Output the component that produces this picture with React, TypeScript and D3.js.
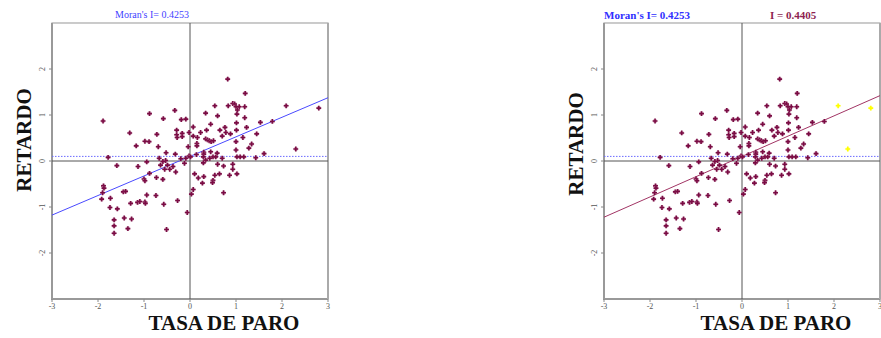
import React from "react";
import * as d3 from "d3";

// Standardised unemployment rate (x) and its spatial lag (y)
const points: [number, number][] = [
  // x<0, y>0
  [-1.89, 0.87], [-1.78, 0.08], [-1.31, 0.61], [-1.17, 0.33], [-0.98, 0.43], [-0.89, 0.42],
  [-0.88, 1.03], [-0.58, 0.92], [-0.72, 0.58], [-0.69, 0.31], [-0.52, 0.18], [-0.33, 1.1],
  [-0.29, 0.57], [-0.29, 0.67], [-0.32, 0.15], [-0.19, 0.9], [-0.09, 0.91], [-0.17, 0.6],
  [-0.17, 0.53], [-0.28, 0.51], [-0.02, 0.62], [-0.04, 0.31], [-0.02, 0.11], [-0.09, 0.06],
  [-0.2, 0.05], [-0.67, 0.06], [-0.53, 0.01],
  // x>0, y>0
  [0.82, 1.78], [1.2, 1.47], [0.54, 1.2], [0.83, 1.2], [0.93, 1.25], [0.97, 1.24],
  [1.0, 1.18], [1.07, 1.18], [1.19, 1.18], [2.09, 1.2], [2.8, 1.15], [1.03, 1.11],
  [1.02, 1.02], [0.34, 1.04], [0.6, 0.98], [1.19, 0.94], [0.45, 0.8], [0.07, 0.74],
  [0.36, 0.67], [0.65, 0.67], [0.76, 0.73], [0.78, 0.62], [0.88, 0.59], [1.01, 0.83],
  [1.01, 0.67], [1.23, 0.73], [1.53, 0.84], [1.79, 0.86], [1.45, 0.59], [1.34, 0.37],
  [1.28, 0.28], [2.3, 0.26], [1.61, 0.16], [1.43, 0.07], [0.07, 0.54], [0.23, 0.62],
  [0.16, 0.51], [0.34, 0.48], [0.38, 0.46], [0.42, 0.44], [0.46, 0.42], [0.51, 0.44],
  [0.15, 0.38], [0.15, 0.33], [0.7, 0.54], [1.0, 0.42], [1.0, 0.24], [1.15, 0.51],
  [0.3, 0.19], [0.3, 0.15], [0.29, 0.09], [0.45, 0.2], [0.5, 0.09], [0.56, 0.09],
  [0.59, 0.17], [0.7, 0.06], [1.02, 0.09], [1.09, 0.09], [1.17, 0.09], [0.14, 0.14],
  [0.01, 0.09], [0.34, 0.02], [0.43, 0.06],
  // x>0, y<0
  [0.29, -0.04], [0.1, -0.28], [0.18, -0.37], [0.3, -0.34], [0.27, -0.48], [0.5, -0.42],
  [0.49, -0.47], [0.54, -0.31], [0.6, -0.07], [0.73, -0.11], [0.93, -0.07], [0.93, -0.18],
  [0.86, -0.31], [1.02, -0.28], [0.73, -0.69], [0.07, -0.62], [0.03, -0.72], [0.64, -0.28],
  // x<0, y<0
  [-0.06, -1.12], [-0.12, -0.05], [-0.27, -0.86], [-0.94, -0.02], [-0.59, -0.01], [-0.64, -0.09],
  [-0.49, -0.09], [-0.55, -0.18], [-0.44, -0.18], [-0.37, -0.12], [-0.31, -0.24], [-1.13, -0.12],
  [-1.59, -0.1], [-0.88, -0.27], [-1.0, -0.39], [-0.98, -0.43], [-0.73, -0.36], [-0.59, -0.4],
  [-1.88, -0.54], [-1.87, -0.59], [-1.9, -0.69], [-1.92, -0.83], [-1.73, -0.81], [-1.74, -1.01],
  [-1.58, -1.04], [-1.45, -0.67], [-1.4, -0.66], [-1.29, -0.92], [-1.14, -0.9], [-1.09, -0.88],
  [-0.98, -0.89], [-0.97, -0.92], [-0.94, -0.74], [-0.74, -0.75], [-0.57, -0.94], [-1.65, -1.28],
  [-1.65, -1.41], [-1.65, -1.57], [-1.43, -1.24], [-1.27, -1.26], [-1.35, -1.47], [-0.51, -1.49],
];

// points highlighted (yellow) in the right-hand panel
const highlighted: [number, number][] = [[2.09, 1.2], [2.8, 1.15], [2.3, 0.26]];

const xTicks = [-3, -2, -1, 0, 1, 2, 3];
const yTicks = [-2, -1, 0, 1, 2];
const lagMean = 0.1;
const moranAll = 0.4253;
const moranSub = 0.4405;
const xLabel = "TASA DE PARO";
const yLabel = "RETARDO";

const SERIF = "'Liberation Serif', 'Times New Roman', serif";
const POINT = "#7a0c44";

function Panel({ left, right, variant }: { left: number; right: number; variant: "a" | "b" }) {
  const top = 23, bottom = 299;
  const x = d3.scaleLinear().domain([-3, 3]).range([left, right]);
  const y = d3.scaleLinear().domain([-3, 3]).range([bottom, top]);
  const star = d3.symbol().type(d3.symbolCross).size(13)();
  const isHi = (p: [number, number]) =>
    variant === "b" && highlighted.some((h) => h[0] === p[0] && h[1] === p[1]);
  const slope = variant === "a" ? moranAll : moranSub;
  const lineColor = variant === "a" ? "#4a4aff" : "#a23565";
  const line = d3.line<number>().x((d) => x(d)).y((d) => y(lagMean + slope * d));
  const cx = (left + right) / 2;
  return (
    <g>
      <rect x={left} y={top} width={right - left} height={bottom - top} fill="none" stroke="#a8a8a8" strokeWidth={1.2} />
      <line x1={left} x2={left} y1={top} y2={bottom + 1} stroke="#999" strokeWidth={2} />
      <line x1={left - 1} x2={right} y1={bottom} y2={bottom} stroke="#999" strokeWidth={2} />
      <line x1={right} x2={right} y1={top} y2={bottom} stroke="#aaa" strokeWidth={2} />
      {/* cross lines */}
      <line x1={x(0)} x2={x(0)} y1={top} y2={bottom} stroke="#555" strokeWidth={1} />
      <line x1={left} x2={right} y1={y(0)} y2={y(0)} stroke="#555" strokeWidth={1} />
      {/* mean lag dotted */}
      <line x1={left} x2={right} y1={y(lagMean)} y2={y(lagMean)} stroke="#6b6bff" strokeWidth={1} strokeDasharray="1.5,1.5" />
      {/* x ticks */}
      {xTicks.map((t) => (
        <g key={"x" + t}>
          <line x1={x(t)} x2={x(t)} y1={bottom} y2={bottom + 3} stroke="#888" />
          <text x={x(t)} y={bottom + 10} fontSize={8} fontFamily={SERIF} textAnchor="middle" fill="#555">{t}</text>
        </g>
      ))}
      {yTicks.map((t) => (
        <g key={"y" + t}>
          <line x1={left - 3} x2={left} y1={y(t)} y2={y(t)} stroke="#888" />
          <text transform={`translate(${left - 7},${y(t)}) rotate(-90)`} fontSize={8} fontFamily={SERIF} textAnchor="middle" fill="#555">{t}</text>
        </g>
      ))}
      {/* regression line */}
      <path d={line([-3, 3]) || ""} fill="none" stroke={lineColor} strokeWidth={1} />
      {/* points */}
      {points.map((p, i) => (
        <g key={i} transform={`translate(${x(p[0])},${y(p[1])})`}>
          <circle r={2.3} fill={isHi(p) ? "#ffff99" : "#c48aa6"} opacity={0.6} />
          <path d={star || ""} fill={isHi(p) ? "#ffff00" : POINT} />
        </g>
      ))}
      {/* labels */}
      <text x={cx + 34} y={330} fontSize={21} fontWeight="bold" fontFamily={SERIF} textAnchor="middle" fill="#111">{xLabel}</text>
      <text transform={`translate(${left - 21},${variant === "a" ? 140 : 144}) rotate(-90)`} fontSize={21} fontWeight="bold" fontFamily={SERIF} textAnchor="middle" fill="#111">{yLabel}</text>
      {variant === "a" ? (
        <text x={152} y={18} fontSize={10} fontFamily={SERIF} textAnchor="middle" fill="#3f3fff">{`Moran's I= ${moranAll}`}</text>
      ) : (
        <g>
          <text x={left} y={18.5} fontSize={11} fontWeight="bold" fontFamily={SERIF} fill="#2f2fff">{`Moran's I= ${moranAll}`}</text>
          <text x={770} y={18.5} fontSize={11} fontWeight="bold" fontFamily={SERIF} fill="#8e1f52">{`I = ${moranSub}`}</text>
        </g>
      )}
    </g>
  );
}

export default function App() {
  return (
    <svg width={881} height={338} style={{ position: "absolute", left: 0, top: 0, background: "#fff" }}>
      <Panel left={52} right={328} variant="a" />
      <Panel left={604} right={880} variant="b" />
    </svg>
  );
}
